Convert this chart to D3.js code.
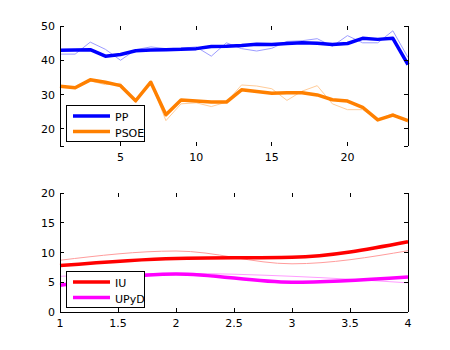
<!DOCTYPE html>
<html>
<head>
<meta charset="utf-8">
<script src="https://cdn.jsdelivr.net/npm/d3@7/dist/d3.min.js"></script>
<style>
  body { margin: 0; background: #fff; }
  svg text { font-family: "DejaVu Sans", sans-serif; font-size: 11px; fill: #000; }
</style>
</head>
<body>
<svg id="chart" width="450" height="350"></svg>
<script>
// Poll sequence (top panel): index 1..24
const pollIndex = d3.range(1, 25);
const ppSmooth   = [42.9, 43.0, 43.1, 41.2, 41.7, 42.8, 43.0, 43.1, 43.2, 43.4, 44.0, 44.1,
                    44.3, 44.7, 44.6, 44.9, 45.1, 45.0, 44.6, 44.9, 46.4, 46.1, 46.4, 38.7];
const ppRaw      = [41.8, 41.8, 45.3, 43.2, 40.0, 43.1, 43.9, 43.4, 43.5, 43.9, 41.2, 45.1,
                    43.4, 42.7, 43.5, 45.5, 45.7, 46.3, 44.1, 47.2, 45.1, 45.1, 48.6, 40.8];
const psoeSmooth = [32.4, 32.0, 34.3, 33.6, 32.6, 28.2, 33.6, 24.1, 28.4, 28.1, 27.8, 27.8,
                    31.4, 30.9, 30.4, 30.5, 30.5, 29.9, 28.5, 28.1, 26.3, 22.6, 24.0, 22.4];
const psoeRaw    = [32.4, 32.0, 34.0, 32.9, 33.3, 27.6, 33.6, 22.4, 27.3, 27.6, 26.5, 27.8,
                    32.8, 32.5, 31.7, 28.3, 31.0, 32.6, 27.3, 25.6, 25.6, 22.6, 24.5, 21.9];

// Bottom panel: index 1..4
const smallIndex = [1, 2, 3, 4];
const iuSmooth   = [7.8, 9.0, 9.2, 11.8];
const iuRaw      = [8.7, 10.25, 8.1, 10.3];
const upydSmooth = [4.5, 6.4, 5.0, 5.9];
const upydRaw    = [6.0, 6.5, 6.0, 4.9];

// Tick values
const topXTicks = [5, 10, 15, 20];
const topYTicks = [20, 30, 40, 50];
const botXTicks = [1, 1.5, 2, 2.5, 3, 3.5, 4];
const botYTicks = [0, 5, 10, 15, 20];

const svg = d3.select("#chart");
const tickLen = 4;

function drawPanel(cfg) {
  const g = svg.append("g");
  const x = d3.scaleLinear().domain(cfg.xDomain).range([60, 408]);
  const y = d3.scaleLinear().domain(cfg.yDomain).range([cfg.bottom, cfg.top]);

  const line = d3.line()
    .x((d, i) => x(cfg.xs[i]))
    .y(d => y(d))
    .curve(cfg.curve);

  // light raw series first, heavy smoothed series on top
  cfg.series.forEach(s => {
    g.append("path").datum(s.raw)
      .attr("d", line).attr("fill", "none")
      .attr("stroke", s.light).attr("stroke-width", 1);
  });
  cfg.series.forEach(s => {
    g.append("path").datum(s.smooth)
      .attr("d", line).attr("fill", "none")
      .attr("stroke", s.color).attr("stroke-width", 3.5)
      .attr("stroke-linejoin", "round");
  });

  // axes frame: vertical sides, optional bottom line
  const frame = g.append("g").attr("stroke", "#000").attr("stroke-width", 1)
    .attr("shape-rendering", "crispEdges");
  frame.append("line").attr("x1", 60).attr("x2", 60).attr("y1", cfg.top).attr("y2", cfg.bottom);
  frame.append("line").attr("x1", 408).attr("x2", 408).attr("y1", cfg.top).attr("y2", cfg.bottom);
  if (cfg.bottomLine) {
    frame.append("line").attr("x1", 60).attr("x2", 408).attr("y1", cfg.bottom).attr("y2", cfg.bottom);
  }

  // inward ticks on all four sides
  cfg.xTicks.forEach(t => {
    frame.append("line").attr("x1", x(t)).attr("x2", x(t))
      .attr("y1", cfg.bottom).attr("y2", cfg.bottom - tickLen);
    frame.append("line").attr("x1", x(t)).attr("x2", x(t))
      .attr("y1", cfg.top).attr("y2", cfg.top + tickLen);
  });
  cfg.yTickMarks.forEach(t => {
    frame.append("line").attr("x1", 60).attr("x2", 60 + tickLen)
      .attr("y1", y(t)).attr("y2", y(t));
    frame.append("line").attr("x1", 408).attr("x2", 408 - tickLen)
      .attr("y1", y(t)).attr("y2", y(t));
  });

  // tick labels
  cfg.xTicks.forEach(t => {
    g.append("text").attr("x", x(t)).attr("y", cfg.bottom + 15)
      .attr("text-anchor", "middle").text(String(t));
  });
  cfg.yTicks.forEach(t => {
    g.append("text").attr("x", 55).attr("y", y(t) + 4)
      .attr("text-anchor", "end").text(String(t));
  });

  // legend
  const lg = g.append("g");
  lg.append("rect").attr("x", 66.5).attr("y", cfg.legendTop).attr("width", 78).attr("height", 36)
    .attr("fill", "#fff").attr("stroke", "#000").attr("stroke-width", 1)
    .attr("shape-rendering", "crispEdges");
  cfg.series.forEach((s, i) => {
    const ly = cfg.legendTop + 11 + i * 15.5;
    lg.append("line").attr("x1", 73).attr("x2", 110).attr("y1", ly).attr("y2", ly)
      .attr("stroke", s.color).attr("stroke-width", 3.5);
    lg.append("text").attr("x", 115).attr("y", ly + 5).text(s.name);
  });
}

drawPanel({
  xDomain: [1, 24], yDomain: [15, 50], top: 26, bottom: 146,
  xs: pollIndex, curve: d3.curveLinear, bottomLine: false,
  xTicks: topXTicks, yTicks: topYTicks, yTickMarks: [15, 20, 30, 40, 50],
  legendTop: 105,
  series: [
    { name: "PP",   color: "#0000ff", light: "#9c9cff", smooth: ppSmooth,   raw: ppRaw },
    { name: "PSOE", color: "#ff8000", light: "#ffcc99", smooth: psoeSmooth, raw: psoeRaw }
  ]
});

drawPanel({
  xDomain: [1, 4], yDomain: [0, 20], top: 193, bottom: 312,
  xs: smallIndex, curve: d3.curveMonotoneX, bottomLine: true,
  xTicks: botXTicks, yTicks: botYTicks, yTickMarks: botYTicks,
  legendTop: 271,
  series: [
    { name: "IU",   color: "#ff0000", light: "#ff9c9c", smooth: iuSmooth,   raw: iuRaw },
    { name: "UPyD", color: "#ff00ff", light: "#ff9cff", smooth: upydSmooth, raw: upydRaw }
  ]
});
</script>
</body>
</html>
